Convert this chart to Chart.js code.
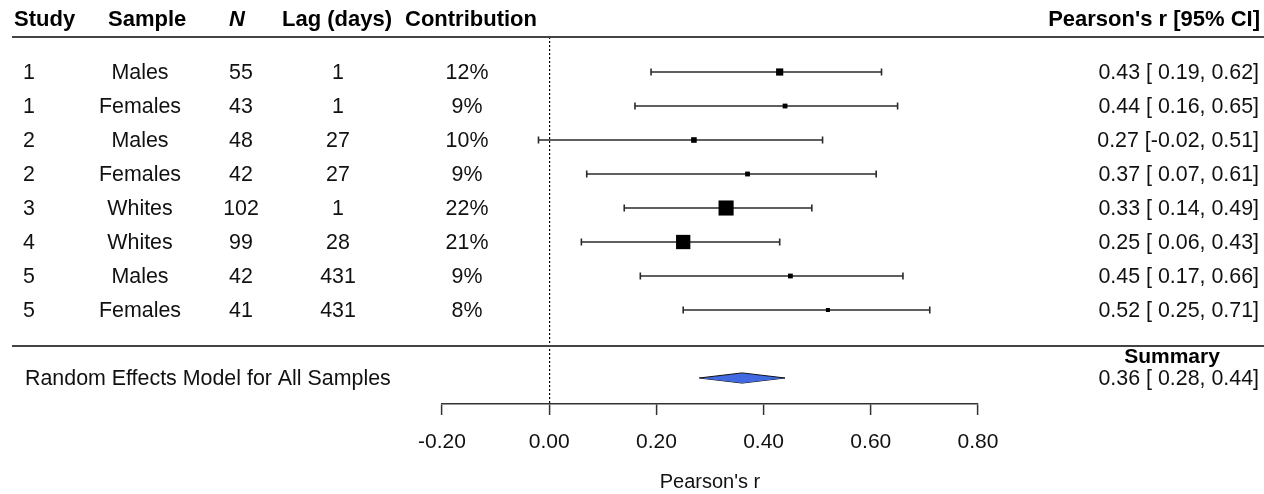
<!DOCTYPE html>
<html>
<head>
<meta charset="utf-8">
<script src="https://cdn.jsdelivr.net/npm/chart.js@4/dist/chart.umd.min.js"></script>
<style>
  body { margin: 0; background: #fff; }
  #wrap { width: 1264px; height: 494px; position: relative; }
</style>
</head>
<body>
<div id="wrap"><canvas id="forest"></canvas></div>
<script>
// study table
const studies   = ['1', '1', '2', '2', '3', '4', '5', '5'];
const samples   = ['Males', 'Females', 'Males', 'Females', 'Whites', 'Whites', 'Males', 'Females'];
const sampleN   = [55, 43, 48, 42, 102, 99, 42, 41];
const lagDays   = [1, 1, 27, 27, 1, 28, 431, 431];
const weights   = [12, 9, 10, 9, 22, 21, 9, 8];
const estimates = [0.43, 0.44, 0.27, 0.37, 0.33, 0.25, 0.45, 0.52];
const lower     = [0.19, 0.16, -0.02, 0.07, 0.14, 0.06, 0.17, 0.25];
const upper     = [0.62, 0.65, 0.51, 0.61, 0.49, 0.43, 0.66, 0.71];

// random effects summary
const summaryEst = 0.36;
const summaryLower = 0.28;
const summaryUpper = 0.44;

const xTicks = [-0.2, 0, 0.2, 0.4, 0.6, 0.8];

const FONT = "'Liberation Sans', Arial, sans-serif";
const summaryRow = 9;

function fmtCI(est, lo, hi) {
    const l = (lo >= 0 ? ' ' : '') + lo.toFixed(2);
    return est.toFixed(2) + ' [' + l + ', ' + hi.toFixed(2) + ']';
}

// square side grows with the weight
function boxRadius(w) {
    const side = Math.max(3, (w - 2.9) * 0.79);
    return side / Math.SQRT2;
}

const ciSets = estimates.map(function (e, i) {
    return {
        type: 'line',
        data: [{x: lower[i], y: i}, {x: upper[i], y: i}],
        borderColor: '#2a2a2a',
        borderWidth: 1.6,
        pointStyle: 'line',
        rotation: 90,
        pointRadius: 3.5,
        pointBorderColor: '#2a2a2a',
        pointBorderWidth: 1.6,
        order: 2
    };
});

const diamondHalf = 0.15;

const tablePlugin = {
    id: 'tableText',
    afterDraw(chart) {
        const ctx = chart.ctx;
        const y = chart.scales.y;
        ctx.save();
        // rules
        ctx.strokeStyle = '#444';
        ctx.lineWidth = 2;
        ctx.beginPath();
        ctx.moveTo(12, 37); ctx.lineTo(1264, 37);
        ctx.moveTo(12, 346); ctx.lineTo(1264, 346);
        ctx.stroke();

        ctx.fillStyle = '#000';
        ctx.textBaseline = 'middle';
        // header
        ctx.font = 'bold 22px ' + FONT;
        ctx.textAlign = 'left';
        ctx.fillText('Study', 14, 20);
        ctx.fillText('Sample', 108, 20);
        ctx.fillText('Lag (days)', 282, 20);
        ctx.fillText('Contribution', 405, 20);
        ctx.textAlign = 'right';
        ctx.fillText("Pearson's r [95% CI]", 1260, 20);
        ctx.font = 'italic bold 22px ' + FONT;
        ctx.textAlign = 'center';
        ctx.fillText('N', 237, 20);

        // rows
        ctx.font = '21.4px ' + FONT;
        ctx.fillStyle = '#111';
        for (let i = 0; i < studies.length; i++) {
            const py = y.getPixelForValue(i) + 1;
            ctx.textAlign = 'center';
            ctx.fillText(studies[i], 29, py);
            ctx.fillText(samples[i], 140, py);
            ctx.fillText(String(sampleN[i]), 241, py);
            ctx.fillText(String(lagDays[i]), 338, py);
            ctx.fillText(weights[i] + '%', 467, py);
            ctx.textAlign = 'right';
            ctx.fillText(fmtCI(estimates[i], lower[i], upper[i]), 1259, py);
        }

        // summary
        const sy = y.getPixelForValue(summaryRow) + 1;
        ctx.textAlign = 'left';
        ctx.fillText('Random Effects Model for All Samples', 25, sy);
        ctx.textAlign = 'right';
        ctx.fillText(fmtCI(summaryEst, summaryLower, summaryUpper), 1259, sy);
        ctx.font = 'bold 21px ' + FONT;
        ctx.textAlign = 'center';
        ctx.fillStyle = '#000';
        ctx.fillText('Summary', 1172, sy - 22);
        ctx.restore();
    }
};

const ctx = document.getElementById('forest');
new Chart(ctx, {
    type: 'scatter',
    data: {
        datasets: [
            {
                type: 'scatter',
                data: estimates.map(function (e, i) { return {x: e, y: i}; }),
                pointStyle: 'rect',
                pointRadius: weights.map(boxRadius),
                pointBackgroundColor: '#000',
                pointBorderWidth: 0,
                order: 0
            },
            {
                type: 'line',
                data: [
                    {x: summaryLower, y: summaryRow},
                    {x: summaryEst, y: summaryRow - diamondHalf},
                    {x: summaryUpper, y: summaryRow}
                ],
                borderColor: '#111',
                borderWidth: 1,
                pointRadius: 0,
                tension: 0,
                fill: '+1',
                backgroundColor: '#4169E1',
                order: 1
            },
            {
                type: 'line',
                data: [
                    {x: summaryLower, y: summaryRow},
                    {x: summaryEst, y: summaryRow + diamondHalf},
                    {x: summaryUpper, y: summaryRow}
                ],
                borderColor: '#111',
                borderWidth: 1,
                pointRadius: 0,
                tension: 0,
                fill: false,
                order: 1
            }
        ].concat(ciSets)
    },
    options: {
        responsive: true,
        maintainAspectRatio: false,
        animation: false,
        layout: {
            padding: {left: 442, right: 286, top: 37, bottom: 0}
        },
        scales: {
            x: {
                type: 'linear',
                min: xTicks[0],
                max: xTicks[xTicks.length - 1],
                afterBuildTicks: function (scale) {
                    scale.ticks = xTicks.map(function (v) { return {value: v}; });
                },
                afterFit: function (scale) {
                    scale.height = 90;
                },
                grid: {
                    color: function (c) {
                        return c.tick && Math.abs(c.tick.value) < 1e-9 ? '#000' : 'rgba(0,0,0,0)';
                    },
                    lineWidth: 1.2,
                    tickLength: 11,
                    tickColor: '#333',
                    tickWidth: 1.5
                },
                border: {
                    color: '#333',
                    width: 1.5,
                    dash: [2, 2]
                },
                ticks: {
                    padding: 15,
                    color: '#111',
                    font: {family: FONT, size: 21},
                    callback: function (v) { return Number(v).toFixed(2); }
                },
                title: {
                    display: true,
                    text: "Pearson's r",
                    color: '#111',
                    font: {family: FONT, size: 20},
                    padding: {top: 0, bottom: 0}
                }
            },
            y: {
                type: 'linear',
                display: false,
                reverse: true,
                min: -1.03,
                max: 9.765
            }
        },
        plugins: {
            legend: {display: false},
            tooltip: {enabled: false}
        }
    },
    plugins: [tablePlugin]
});
</script>
</body>
</html>
